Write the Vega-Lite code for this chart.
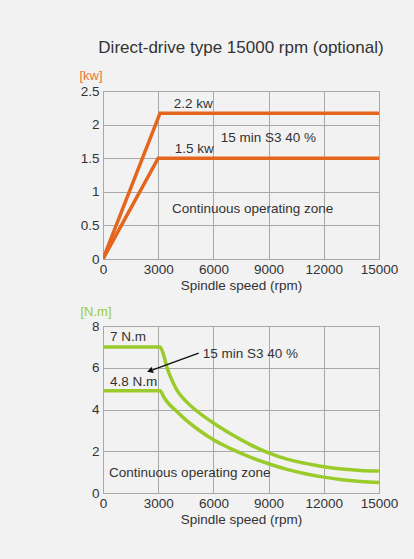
{
  "$schema": "https://vega.github.io/schema/vega-lite/v6.json",
  "background": "#f2f2f2",
  "padding": {"left": 78, "top": 38, "right": 17, "bottom": 36},
  "title": {"text": "Direct-drive type 15000 rpm (optional)", "fontSize": 17, "fontWeight": "normal", "color": "#333333", "font": "Liberation Sans", "anchor": "middle", "frame": "group", "offset": 12},
  "config": {
    "font": "Liberation Sans",
    "view": {"stroke": "#9a9a9a", "strokeWidth": 1},
    "axis": {"gridColor": "#a8a8a8", "gridOpacity": 1, "gridWidth": 1, "domain": false, "ticks": false, "labelColor": "#333333", "labelFontSize": 13.5, "labelFont": "Liberation Sans", "titleFont": "Liberation Sans", "titleFontWeight": "normal", "titleColor": "#333333", "titleFontSize": 13.5, "labelPadding": 4, "labelOverlap": false, "labelFlush": false},
    "text": {"font": "Liberation Sans", "fontSize": 13.5, "color": "#333333", "align": "left", "baseline": "middle"}
  },
  "spacing": 11,
  "vconcat": [
    {
      "width": 276,
      "height": 168,
      "layer": [
        {
          "data": {"values": [
            {"series": "S3", "rpm": 0, "power": 0},
            {"series": "S3", "rpm": 3100, "power": 2.17},
            {"series": "S3", "rpm": 15000, "power": 2.17},
            {"series": "cont", "rpm": 0, "power": 0},
            {"series": "cont", "rpm": 3000, "power": 1.5},
            {"series": "cont", "rpm": 15000, "power": 1.5}
          ]},
          "mark": {"type": "line", "color": "#e3661c", "strokeWidth": 3.5, "clip": true},
          "encoding": {
            "x": {"field": "rpm", "type": "quantitative", "scale": {"domain": [0, 15000], "nice": false}, "axis": {"values": [0, 3000, 6000, 9000, 12000, 15000], "tickCount": 10, "format": "d", "title": "Spindle speed (rpm)", "labelPadding": 3, "titlePadding": 3}},
            "y": {"field": "power", "type": "quantitative", "scale": {"domain": [0, 2.5], "nice": false}, "axis": {"values": [0, 0.5, 1, 1.5, 2, 2.5], "tickCount": 10, "format": "~g", "title": "[kw]", "titleAngle": 0, "titleAlign": "left", "titleBaseline": "alphabetic", "titleX": -24, "titleY": -12, "titleColor": "#e8762d", "titleFontSize": 13}},
            "detail": {"field": "series"}
          }
        },
        {
          "data": {"values": [
            {"label": "2.2 kw", "rpm": 3850, "power": 2.31},
            {"label": "1.5 kw", "rpm": 3900, "power": 1.64},
            {"label": "15 min S3 40 %", "rpm": 6400, "power": 1.8},
            {"label": "Continuous operating zone", "rpm": 3750, "power": 0.74}
          ]},
          "mark": {"type": "text"},
          "encoding": {
            "x": {"field": "rpm", "type": "quantitative"},
            "y": {"field": "power", "type": "quantitative"},
            "text": {"field": "label"}
          }
        }
      ]
    },
    {
      "width": 276,
      "height": 167,
      "layer": [
        {
          "data": {"values": [
            {"series": "S3", "rpm": 0, "torque": 7.0},
            {"series": "S3", "rpm": 3100, "torque": 7.0},
            {"series": "S3", "rpm": 3300, "torque": 6.6},
            {"series": "S3", "rpm": 3450, "torque": 6.1},
            {"series": "S3", "rpm": 3700, "torque": 5.5},
            {"series": "S3", "rpm": 4000, "torque": 4.95},
            {"series": "S3", "rpm": 4500, "torque": 4.4},
            {"series": "S3", "rpm": 5000, "torque": 4.0},
            {"series": "S3", "rpm": 6000, "torque": 3.35},
            {"series": "S3", "rpm": 7000, "torque": 2.8},
            {"series": "S3", "rpm": 8000, "torque": 2.32},
            {"series": "S3", "rpm": 9000, "torque": 1.92},
            {"series": "S3", "rpm": 10000, "torque": 1.62},
            {"series": "S3", "rpm": 11000, "torque": 1.42},
            {"series": "S3", "rpm": 12000, "torque": 1.26},
            {"series": "S3", "rpm": 13000, "torque": 1.15},
            {"series": "S3", "rpm": 14000, "torque": 1.08},
            {"series": "S3", "rpm": 15000, "torque": 1.05},
            {"series": "cont", "rpm": 0, "torque": 4.9},
            {"series": "cont", "rpm": 3100, "torque": 4.9},
            {"series": "cont", "rpm": 3300, "torque": 4.6},
            {"series": "cont", "rpm": 3600, "torque": 4.25},
            {"series": "cont", "rpm": 3900, "torque": 4.0},
            {"series": "cont", "rpm": 4500, "torque": 3.5},
            {"series": "cont", "rpm": 5000, "torque": 3.15},
            {"series": "cont", "rpm": 6000, "torque": 2.55},
            {"series": "cont", "rpm": 7000, "torque": 2.1},
            {"series": "cont", "rpm": 8000, "torque": 1.72},
            {"series": "cont", "rpm": 9000, "torque": 1.4},
            {"series": "cont", "rpm": 10000, "torque": 1.13},
            {"series": "cont", "rpm": 11000, "torque": 0.92},
            {"series": "cont", "rpm": 12000, "torque": 0.76},
            {"series": "cont", "rpm": 13000, "torque": 0.64},
            {"series": "cont", "rpm": 14000, "torque": 0.55},
            {"series": "cont", "rpm": 15000, "torque": 0.5}
          ]},
          "mark": {"type": "line", "color": "#9bcb2b", "strokeWidth": 3.5, "interpolate": "monotone", "clip": true},
          "encoding": {
            "x": {"field": "rpm", "type": "quantitative", "scale": {"domain": [0, 15000], "nice": false}, "axis": {"values": [0, 3000, 6000, 9000, 12000, 15000], "tickCount": 10, "format": "d", "title": "Spindle speed (rpm)", "labelPadding": 3, "titlePadding": 3}},
            "y": {"field": "torque", "type": "quantitative", "scale": {"domain": [0, 8], "nice": false}, "axis": {"values": [0, 2, 4, 6, 8], "tickCount": 10, "format": "~g", "title": "[N.m]", "titleAngle": 0, "titleAlign": "left", "titleBaseline": "alphabetic", "titleX": -23, "titleY": -11, "titleColor": "#9acd32", "titleFontSize": 13}},
            "detail": {"field": "series"}
          }
        },
        {
          "data": {"values": [
            {"label": "7 N.m", "rpm": 380, "torque": 7.45},
            {"label": "4.8 N.m", "rpm": 380, "torque": 5.3},
            {"label": "15 min S3 40 %", "rpm": 5420, "torque": 6.68},
            {"label": "Continuous operating zone", "rpm": 330, "torque": 0.96}
          ]},
          "mark": {"type": "text"},
          "encoding": {
            "x": {"field": "rpm", "type": "quantitative"},
            "y": {"field": "torque", "type": "quantitative"},
            "text": {"field": "label"}
          }
        },
        {
          "data": {"values": [
            {"rpm": 5200, "torque": 6.7, "rpm2": 2700, "torque2": 5.9}
          ]},
          "mark": {"type": "rule", "color": "#111111", "strokeWidth": 1.5},
          "encoding": {
            "x": {"field": "rpm", "type": "quantitative"},
            "y": {"field": "torque", "type": "quantitative"},
            "x2": {"field": "rpm2"},
            "y2": {"field": "torque2"}
          }
        },
        {
          "data": {"values": [
            {"rpm": 2550, "torque": 5.85}
          ]},
          "mark": {"type": "point", "shape": "triangle-right", "filled": true, "color": "#111111", "size": 45, "angle": 160, "opacity": 1},
          "encoding": {
            "x": {"field": "rpm", "type": "quantitative"},
            "y": {"field": "torque", "type": "quantitative"}
          }
        }
      ]
    }
  ]
}
